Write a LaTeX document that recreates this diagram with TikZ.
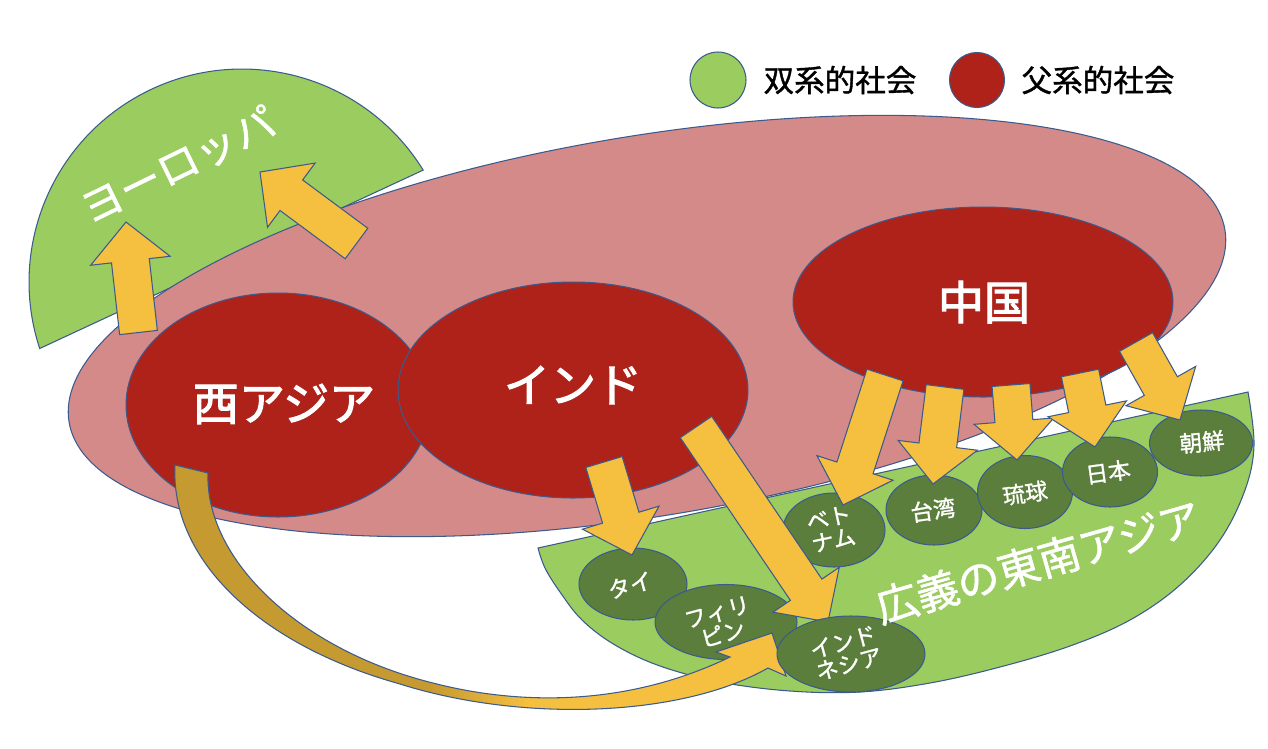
\documentclass[tikz,border=0pt]{standalone}
\usepackage{fontspec}
\newfontfamily\jp{Noto Sans CJK JP}
\newfontfamily\jpM{Noto Sans CJK JP}[FakeBold=1.2]
\newfontfamily\jpB{Noto Sans CJK JP}[FakeBold=2.5]
\usetikzlibrary{shapes.geometric,calc}
\definecolor{pinkc}{HTML}{D48A88}
\definecolor{redc}{HTML}{AE2219}
\definecolor{lgc}{HTML}{9BCC5F}
\definecolor{dgc}{HTML}{5B7E3C}
\definecolor{yelc}{HTML}{F5BF40}
\definecolor{goldc}{HTML}{C59A30}
\definecolor{olc}{HTML}{3B5A8E}
\pgfdeclarehorizontalshading{curvsh}{100bp}{color(0bp)=(goldc); color(46bp)=(goldc); color(54bp)=(yelc); color(100bp)=(yelc)}
\newcommand\fs[1]{\fontsize{#1}{#1}\selectfont}
\def\asw{0.38cm}\def\ahw{0.8cm}\def\ahl{0.78cm}
\newcommand{\barrow}[3]{%
 \coordinate (#1b) at ($(#3)!\ahl!(#2)$);
 \path[yarr] ($(#2)!\asw!90:(#3)$) -- ($(#1b)!\asw!90:(#3)$) -- ($(#1b)!\ahw!90:(#3)$) -- (#3) -- ($(#1b)!\ahw!-90:(#3)$) -- ($(#1b)!\asw!-90:(#3)$) -- ($(#2)!\asw!-90:(#3)$) -- cycle;}
\begin{document}
\begin{tikzpicture}[x=0.02cm,y=-0.02cm,
 outl/.style={draw=olc,line width=0.6pt},
 yarr/.style={outl,fill=yelc},
 redell/.style={ellipse,outl,fill=redc,inner sep=0pt},
 dgell/.style={ellipse,outl,fill=dgc,inner sep=0pt},
 bigtxt/.style={text=white,font=\jpB\fs{26.2pt},inner sep=0pt},
 smtxt/.style={text=white,font=\jpM\fs{12.8pt},align=center,inner sep=0pt},
 areatxt/.style={text=white,font=\jpM\fs{24pt},inner sep=0pt},
 legtxt/.style={text=black,font=\jpM\fs{17.4pt},inner sep=0pt}]
\useasboundingbox (0,0) rectangle (1268,748);
% Europe area
\coordinate (euc) at (242,282);
\path[outl,fill=lgc] ($(euc)+(31.7:4.26cm)$) arc[start angle=31.7,end angle=198.2,radius=4.26cm] -- cycle;
% patrilineal big ellipse
\path[outl,fill=pinkc,rotate around={9.45:(647,326)}] (647,326) ellipse [x radius=11.72cm,y radius=3.8cm];
% SE Asia area
\path[outl,fill=lgc] plot[smooth,tension=0.6] coordinates {(538,548) (545,568) (560,592) (582,620) (615,645) (660,666) (720,682) (790,691) (860,692) (930,683) (1000,667) (1070,646) (1130,620) (1180,585) (1220,540) (1245,490) (1254,445) (1248,392)} -- cycle;
% red ellipses
\node[redell,minimum width=6.08cm,minimum height=4.48cm] (wa) at (278,405) {};
\node[redell,minimum width=7cm,minimum height=4.32cm] (in) at (573,390) {};
\node[redell,minimum width=7.6cm,minimum height=3.8cm] (cn) at (983,302) {};
\node[bigtxt] (watx) at (284,404) {西アジア};
\node[bigtxt] (intx) at (573,385) {インド};
\node[bigtxt] (cntx) at (984,302) {中国};
% Europe arrows
\coordinate (e1s) at (138.5,332.5); \coordinate (e1t) at (126,222);
\coordinate (e2s) at (356.5,243.5); \coordinate (e2t) at (260,172);
\barrow{e1}{e1s}{e1t}
\barrow{e2}{e2s}{e2t}
% dark green ellipses
\node[dgell,minimum width=2.16cm,minimum height=1.44cm] (th) at (633,584) {};
\node[dgell,minimum width=2.84cm,minimum height=1.5cm] (ph) at (726,622) {};
\node[dgell,minimum width=2.04cm,minimum height=1.48cm] (vn) at (834,530) {};
\node[dgell,minimum width=1.92cm,minimum height=1.4cm] (tw) at (934,510) {};
\node[dgell,minimum width=1.9cm,minimum height=1.46cm] (ry) at (1025,492) {};
\node[dgell,minimum width=1.9cm,minimum height=1.4cm] (jp) at (1110,472) {};
\node[dgell,minimum width=2.06cm,minimum height=1.32cm] (kr) at (1201,443) {};
% straight arrows
\coordinate (its) at (604,462); \coordinate (itt) at (632,555);
\coordinate (iis) at (696,427); \coordinate (iit) at (828,622);
\coordinate (cvs) at (885,375); \coordinate (cvt) at (843,505);
\coordinate (cts) at (945,387); \coordinate (ctt) at (933,484);
\coordinate (crs) at (1011,385); \coordinate (crt) at (1017,460);
\coordinate (cjs) at (1080,373); \coordinate (cjt) at (1095,447);
\coordinate (cks) at (1136,342); \coordinate (ckt) at (1180,420);
\barrow{it}{its}{itt}
\barrow{ii}{iis}{iit}
\barrow{cv}{cvs}{cvt}
\barrow{ct}{cts}{ctt}
\barrow{cr}{crs}{crt}
\barrow{cj}{cjs}{cjt}
\barrow{ck}{cks}{ckt}
% curved arrow West Asia -> Indonesia
\path[outl,shading=curvsh] (175,465) -- (208,473) .. controls (205,560) and (300,650) .. (433,683) .. controls (510,703) and (620,710) .. (730,657) -- (716,652) -- (772,633) -- (786,676) -- (768,668) .. controls (680,718) and (520,722) .. (400,684) .. controls (260,645) and (170,560) .. (175,465) -- cycle;
\node[dgell,minimum width=2.96cm,minimum height=1.52cm] (id) at (851,654) {};
% small labels
\node[smtxt,rotate=15] (thtx) at (630,585) {タイ};
\node[smtxt,rotate=15] (phtx) at (720,623) {フィリ\\ピン};
\node[smtxt,rotate=15] (idtx) at (846,653) {インド\\ネシア};
\node[smtxt,rotate=12] (vntx) at (831,529) {ベト\\ナム};
\node[smtxt,rotate=8] (twtx) at (933,510) {台湾};
\node[smtxt,rotate=8] (rytx) at (1025,493) {琉球};
\node[smtxt,rotate=8] (jptx) at (1108,472) {日本};
\node[smtxt,rotate=5] (krtx) at (1202,442) {朝鮮};
% area labels
\node[areatxt,rotate=26] (eutx) at (178,165) {ヨーロッパ};
\node[areatxt,rotate=16] (setx) at (1038,562) {広義の東南アジア};
% legend
\node[circle,outl,fill=lgc,minimum size=1.12cm,inner sep=0pt] (lg1) at (718,80) {};
\node[legtxt] (lg1tx) at (840,80) {双系的社会};
\node[circle,outl,fill=redc,minimum size=1.1cm,inner sep=0pt] (lg2) at (977,80) {};
\node[legtxt] (lg2tx) at (1098,80) {父系的社会};
\end{tikzpicture}
\end{document}
